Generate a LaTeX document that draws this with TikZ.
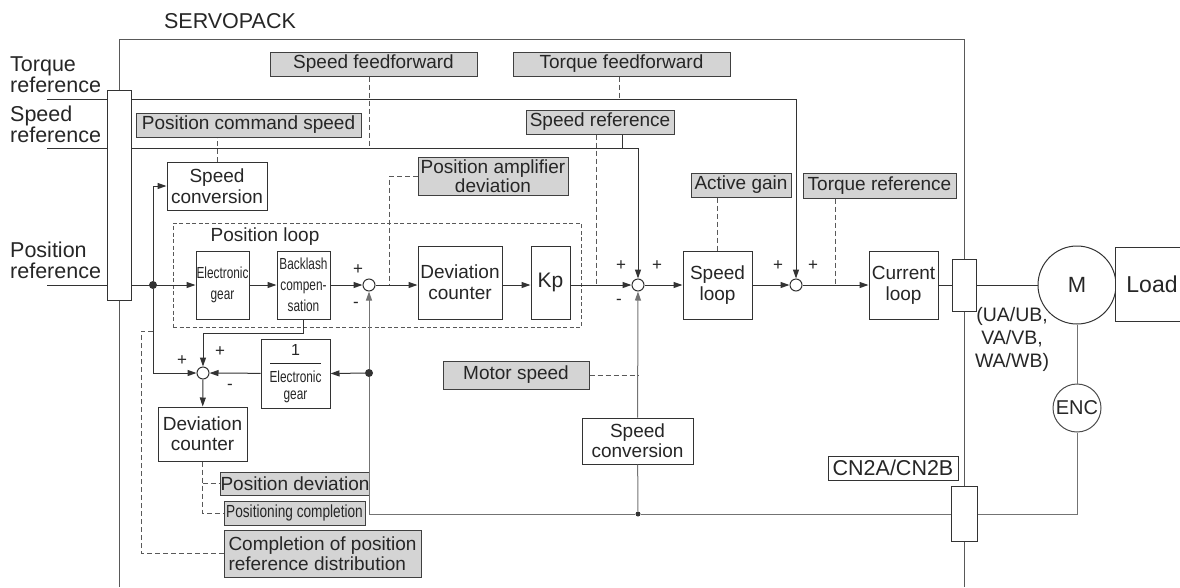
\documentclass[tikz,border=0pt]{standalone}
\usepackage{fontspec}
\setmainfont{Liberation Sans}
\usepackage{graphicx}
\usetikzlibrary{arrows.meta, positioning}
\newcommand{\cond}[1]{\scalebox{0.74}[1]{#1}}

\begin{document}
\begin{tikzpicture}[
    x=1pt, y=-1pt,
    font=\fontsize{19}{21}\selectfont,
    blk/.style={rectangle, draw=black!80, fill=white, line width=1pt, inner sep=0pt, align=center, text=black!85},
    sig/.style={rectangle, draw=black!75, fill=black!17, line width=1pt, inner sep=0pt, align=center, text=black!85},
    sum/.style={circle, draw=black!80, fill=white, line width=1pt, minimum size=12pt, inner sep=0pt},
    dot/.style={circle, fill=black!80, minimum size=8pt, inner sep=0pt},
    sign/.style={font=\fontsize{17}{17}\selectfont, inner sep=0pt, text=black!85},
    lbl/.style={inner sep=0pt, text=black!85},
    big/.style={font=\fontsize{21.5}{21}\selectfont},
    cnd/.style={font=\fontsize{16}{21}\selectfont},
    wire/.style={line width=1pt, draw=black!80},
    fb/.style={line width=1pt, draw=black!55},
    outl/.style={line width=1pt, draw=black!65},
    dsh/.style={line width=1pt, draw=black!65, dash pattern=on 5pt off 3pt},
    arr/.style={-{Triangle[length=9pt, width=6pt]}},
]
    \useasboundingbox (0,0) rectangle (1180,587);

    % Titles and inputs
    \node[lbl, big] (title) at (230,21) {SERVOPACK};
    \node[lbl, big, anchor=west, align=left] (trqtxt) at (10,75) {Torque\\reference};
    \node[lbl, big, anchor=west, align=left] (spdtxt) at (10,124) {Speed\\reference};
    \node[lbl, big, anchor=west, align=left] (postxt) at (10,260) {Position\\reference};
    \coordinate (trqin) at (47,99);
    \coordinate (spdin) at (47,148);
    \coordinate (posin) at (47,285);
    \node[blk, minimum width=24pt, minimum height=210pt] (inbar) at (119,195) {};

    % Position loop frame
    \node[draw=black!65, dash pattern=on 4pt off 2.5pt, line width=1pt, minimum width=408pt, minimum height=104pt, inner sep=0pt] (posloop) at (377,275) {};
    \node[lbl] (posloopl) at (265,237) {Position loop};

    % Monitor signals
    \node[sig, minimum width=207pt, minimum height=24pt] (ffspd) at (373.5,64) {Speed feedforward};
    \node[sig, minimum width=217pt, minimum height=24pt] (fftrq) at (621.5,64) {Torque feedforward};
    \node[sig, minimum width=225pt, minimum height=24pt] (poscmd) at (248.5,125) {Position command speed};
    \node[sig, minimum width=148pt, minimum height=24pt] (spdref) at (600,122) {Speed reference};
    \node[sig, minimum width=150pt, minimum height=38pt, font=\fontsize{19}{17}\selectfont] (posamp) at (493,176) {Position amplifier\\deviation};
    \node[sig, minimum width=100pt, minimum height=24pt] (actgain) at (741,185) {Active gain};
    \node[sig, minimum width=153pt, minimum height=25pt] (trqref) at (879.5,185.5) {Torque reference};
    \node[sig, minimum width=146pt, minimum height=28pt] (motspd) at (516,375) {Motor speed};
    \node[sig, minimum width=142pt, minimum height=23pt] (posdev) at (295,483.5) {Position deviation};
    \node[sig, minimum width=141pt, minimum height=24pt, font=\fontsize{17.5}{19}\selectfont] (poscmp) at (294.5,513) {\scalebox{0.78}[1]{Positioning completion}};
    \node[sig, minimum width=197pt, minimum height=47pt, align=left, font=\fontsize{19}{20}\selectfont] (cmpdist) at (322.5,553.5) {Completion of position\\reference distribution};

    % Blocks
    \node[blk, minimum width=100pt, minimum height=48pt] (spdconv1) at (217,186) {Speed\\conversion};
    \node[blk, cnd, minimum width=53pt, minimum height=68pt] (egear) at (222.5,285) {\cond{Electronic}\\\cond{gear}};
    \node[blk, cnd, minimum width=53pt, minimum height=68pt] (backlash) at (303.5,285) {\cond{Backlash}\\\cond{compen-}\\\cond{sation}};
    \node[blk, minimum width=84pt, minimum height=73pt] (devcnt1) at (460,282.5) {Deviation\\counter};
    \node[blk, minimum width=39pt, minimum height=73pt, font=\fontsize{21}{23}\selectfont] (kp) at (550.5,282.5) {Kp};
    \node[blk, minimum width=69pt, minimum height=68pt] (spdloop) at (717.5,285) {Speed\\loop};
    \node[blk, minimum width=69pt, minimum height=68pt] (curloop) at (903.5,285) {Current\\loop};
    \node[blk, minimum width=69pt, minimum height=69pt, font=\fontsize{16}{15}\selectfont] (invgear) at (295.5,373.5) {1\\[-6pt]\rule{51pt}{0.9pt}\\[3pt]\cond{Electronic}\\[2pt]\cond{gear}};
    \node[blk, minimum width=89pt, minimum height=54pt, font=\fontsize{19}{20}\selectfont] (devcnt2) at (202.5,434) {Deviation\\counter};
    \node[blk, minimum width=111pt, minimum height=46pt, font=\fontsize{19}{20}\selectfont] (spdconv2) at (637.5,441) {Speed\\conversion};
    \node[blk, minimum width=130pt, minimum height=24pt, line width=0.8pt, font=\fontsize{21.5}{22}\selectfont] (cnlbl) at (893,468) {CN2A/CN2B};

    % Summing points
    \node[sum] (sumpos) at (369,285) {};
    \node[sum] (sumspd) at (638,285) {};
    \node[sum] (sumtrq) at (796,285) {};
    \node[sum] (sumdev) at (203,373) {};
    \node[sign] (sp1) at (358,270) {+};
    \node[sign] (sm1) at (356,305) {-};
    \node[sign] (sp2) at (621,266) {+};
    \node[sign] (sp3) at (657,266) {+};
    \node[sign] (sm2) at (619,302) {-};
    \node[sign] (sp4) at (778,266) {+};
    \node[sign] (sp5) at (813,266) {+};
    \node[sign] (sp6) at (182,361) {+};
    \node[sign] (sp7) at (220,352) {+};
    \node[sign] (sm3) at (230,387) {-};

    % Motor side
    \node[blk, minimum width=24pt, minimum height=52pt] (conn1) at (964,285) {};
    \node[blk, minimum width=26pt, minimum height=55pt] (conn2) at (964,514) {};
    \node[circle, draw=black!80, line width=1pt, minimum size=78pt, inner sep=0pt, text=black!85, font=\fontsize{22}{22}\selectfont] (mot) at (1077,285) {M};
    \node[circle, draw=black!70, line width=1pt, minimum size=48pt, inner sep=0pt, text=black!85, font=\fontsize{20}{20}\selectfont] (enc) at (1077,408) {ENC};
    \node[blk, minimum width=74pt, minimum height=74pt, font=\fontsize{23}{23}\selectfont] (load) at (1152,284) {Load};
    \node[lbl, align=center, font=\fontsize{19.5}{23}\selectfont] (phase) at (1012,339) {(UA/UB,\\VA/VB,\\WA/WB)};

    % Junctions and taps
    \node[dot] (jpos) at (153,285) {};
    \node[dot] (jfb) at (369,373) {};
    \node[dot, minimum size=5pt] (jspd) at (638,514) {};
    \coordinate (ptap) at (389,285);
    \coordinate (stap) at (596,285);
    \coordinate (rtap) at (622,148);
    \coordinate (ttap) at (835,285);
    \coordinate (ctap) at (153,331);

    % Frame
    \draw[outl] (inbar.north) -- (inbar.north |- 0,39) -| (conn1.north);
    \draw[outl] (inbar.south) -- (inbar.south |- 0,587);
    \draw[outl] (conn1.south) -- (conn2.north);
    \draw[outl] (conn2.south) -- (conn2.south |- 0,587);

    % References in
    \draw[wire] (trqin) -- (inbar.west |- trqin);
    \draw[wire, arr] (inbar.east |- trqin) -| (sumtrq.north);
    \draw[wire] (spdin) -- (inbar.west |- spdin);
    \draw[wire, arr] (inbar.east |- spdin) -| (sumspd.north);
    \draw[wire] (posin) -- (inbar.west |- posin);
    \draw[wire, arr] (inbar.east |- posin) -- (egear.west);
    \draw[wire] (rtap |- spdref.south) -- (rtap);

    % Forward path
    \draw[wire, arr] (jpos) |- (spdconv1.west);
    \draw[wire, arr] (jpos) |- (sumdev.west);
    \draw[wire, arr] (egear) -- (backlash);
    \draw[wire, arr] (backlash) -- (sumpos);
    \draw[wire, arr] (sumpos) -- (sumpos -| devcnt1.west);
    \draw[wire, arr] (devcnt1.east |- sumpos) -- (kp.west |- sumpos);
    \draw[wire, arr] (kp.east |- sumpos) -- (sumspd);
    \draw[wire, arr] (sumspd) -- (spdloop);
    \draw[wire, arr] (spdloop) -- (sumtrq);
    \draw[wire, arr] (sumtrq) -- (curloop);
    \draw[wire] (curloop) -- (conn1);
    \draw[wire] (conn1) -- (mot);

    % Deviation branch
    \draw[wire, arr] (backlash.south) -- ++(0,14) -| (sumdev.north);
    \draw[wire, arr] (jfb) -- (invgear.east);
    \draw[wire, arr] (invgear) -- (sumdev);
    \draw[wire, arr] (sumdev) -- (devcnt2);

    % Feedback
    \draw[fb] (mot) -- (enc);
    \draw[fb] (enc.south) |- (conn2.east);
    \draw[fb] (conn2) -- (jspd);
    \draw[fb] (jspd) -| (jfb);
    \draw[fb, arr] (jfb) -- (sumpos);
    \draw[fb] (jspd) -- (spdconv2);
    \draw[fb, arr] (spdconv2) -- (sumspd);

    % Monitor taps
    \draw[dsh] ([xshift=-4.5pt]ffspd.south) -- ([xshift=-4.5pt]ffspd.south |- spdin);
    \draw[dsh] ([xshift=-2.5pt]fftrq.south) -- ([xshift=-2.5pt]fftrq.south |- trqin);
    \draw[dsh] (spdconv1.north) -- (spdconv1.north |- poscmd.south);
    \draw[dsh] (stap |- spdref.south) -- (stap);
    \draw[dsh] (posamp.west) -| (ptap);
    \draw[dsh] (spdloop.north |- actgain.south) -- (spdloop.north);
    \draw[dsh] (ttap |- trqref.south) -- (ttap);
    \draw[dsh] (motspd.east) -- (motspd.east -| sumspd);
    \draw[dsh] (devcnt2.south) |- (poscmp.west);
    \draw[dsh] (devcnt2.south |- posdev.west) -- (posdev.west);
    \draw[dsh] (cmpdist.west) -| ([xshift=-12pt]ctap) -- (ctap);
\end{tikzpicture}
\end{document}
